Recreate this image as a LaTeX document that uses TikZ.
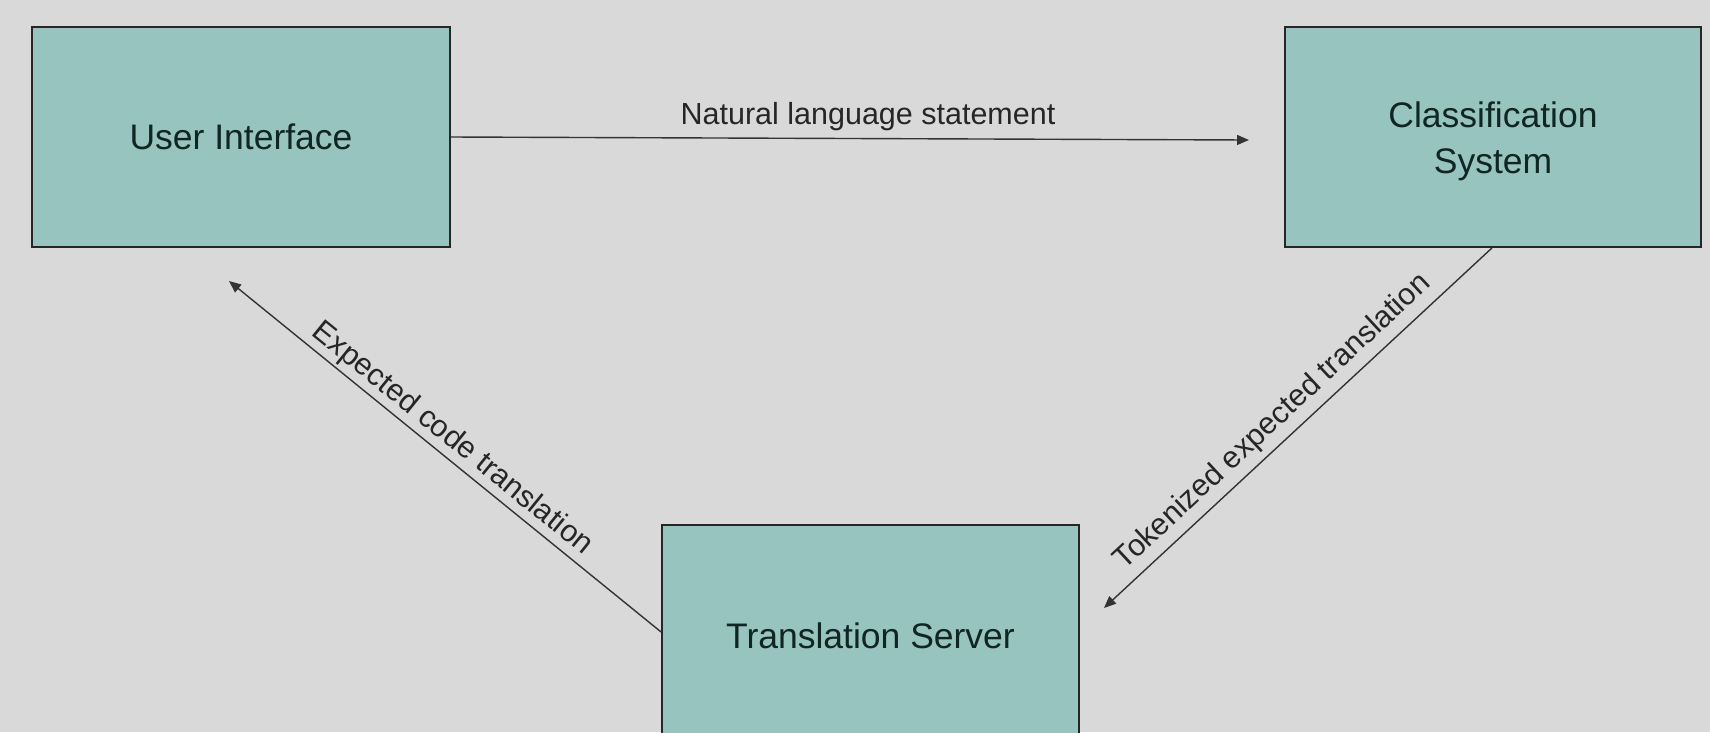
\documentclass[tikz,border=0pt]{standalone}
\usepackage{fontspec}
\setmainfont{Liberation Sans}
\usetikzlibrary{arrows.meta}
\definecolor{canvas}{HTML}{D9D9D9}
\definecolor{boxfill}{HTML}{97C4BE}
\definecolor{ink}{HTML}{0F2622}
\begin{document}
\begin{tikzpicture}[x=1pt,y=-1pt,
  block/.style={draw=black!85, line width=1.8pt, fill=boxfill, text=ink,
    font=\fontsize{35.5}{46}\selectfont, align=center, inner sep=0pt},
  flow/.style={draw=black!80, line width=1.4pt,
    -{Triangle[length=12pt,width=10pt]}},
  lbl/.style={font=\fontsize{30.5}{36}\selectfont, text=black!85, inner sep=0pt}]
  % background and page frame
  \fill[canvas] (0,0) rectangle (1710,732);
  \useasboundingbox (0,0) rectangle (1710,732);
  \clip (0,0) rectangle (1710,732);

  % components
  \node[block, minimum width=418pt, minimum height=220pt] (ui) at (241,137) {User Interface};
  \node[block, minimum width=416pt, minimum height=220pt] (cs) at (1493,137) {};
  \node[ink, font=\fontsize{35.5}{46}\selectfont, align=center] (csText) at (1493,141) {Classification\\System};
  \node[block, minimum width=417pt, minimum height=222pt] (ts) at (870.5,636) {Translation Server};

  % free arrow ends
  \coordinate (nlEnd) at (1249,140);
  \coordinate (tkEnd) at (1104,608);
  \coordinate (ecEnd) at (229,281);

  % data flow
  \draw[flow] (ui.east) -- (nlEnd);
  \draw[flow] ([xshift=-1pt]cs.south) -- (tkEnd);
  \draw[flow] ([yshift=4pt]ts.west) -- (ecEnd);

  % flow labels
  \node[lbl] (nlLabel) at (868,117) {Natural language statement};
  \node[lbl, rotate=42.9] (tkLabel) at (1273,422) {Tokenized expected translation};
  \node[lbl, rotate=-39] (ecLabel) at (452,439) {Expected code translation};
\end{tikzpicture}
\end{document}
